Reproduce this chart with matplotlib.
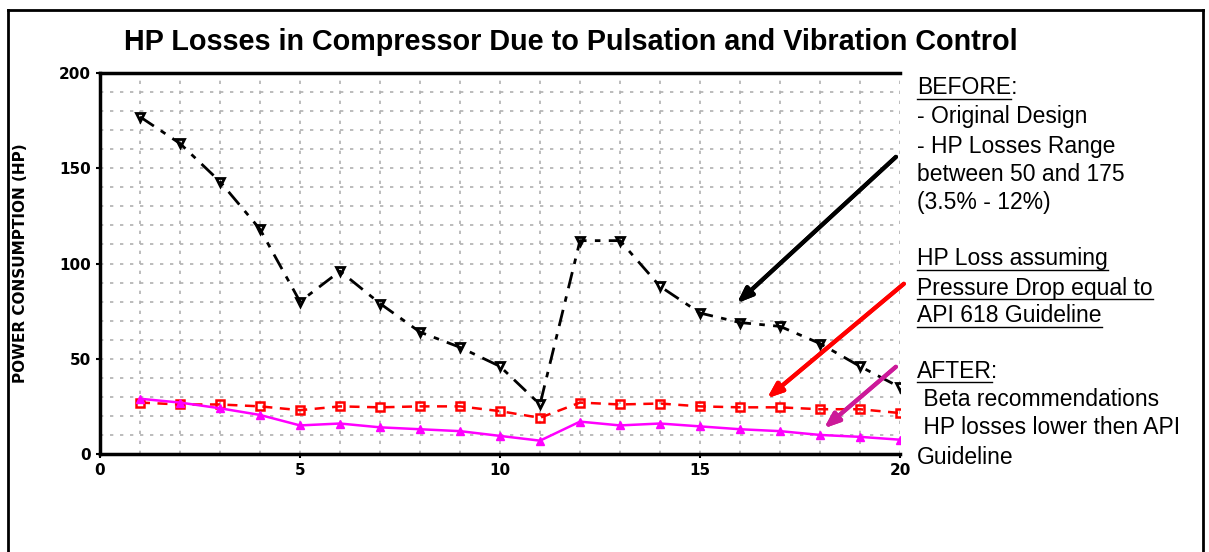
import matplotlib.pyplot as plt
from matplotlib.lines import Line2D
import numpy as np

# data
x = list(range(1, 21))
before = [177, 163, 143, 118, 80, 96, 79, 64, 56, 46, 26, 112, 112, 88, 74, 69, 67, 58, 46, 35]
api_618 = [27, 26, 26, 25, 23, 25, 24.5, 25, 25, 22.5, 19, 27, 26, 26.5, 25, 24.5, 24.5, 23.5, 23.5, 21.5]
after = [29, 27, 24, 20.5, 15, 16, 14, 13, 12, 9.5, 7, 17, 15, 16, 14.5, 13, 12, 10, 9, 7.5]

W, H = 1209, 552
fig = plt.figure(figsize=(W / 100, H / 100), dpi=100)
ax = fig.add_axes([100 / W, 1 - 454 / H, 800 / W, 381 / H])

ax.plot(x, before, color='black', ls=(0, (6, 3, 2, 3)), lw=2, marker='v', ms=6,
        mfc='none', mec='black', mew=2)
ax.plot(x, api_618, color='red', ls=(0, (4, 3)), lw=1.8, marker='s', ms=6,
        mfc='none', mec='red', mew=1.8)
ax.plot(x, after, color='magenta', ls='-', lw=1.8, marker='^', ms=6,
        mfc='magenta', mec='magenta')

ax.set_xlim(0, 20)
ax.set_ylim(0, 200)
ax.set_xticks([0, 5, 10, 15, 20])
ax.set_yticks([0, 50, 100, 150, 200])
ax.set_xticks(np.arange(0, 21, 1), minor=True)
ax.set_yticks(np.arange(0, 201, 10), minor=True)
ax.grid(which='both', color='#b0b0b0', ls=(0, (2, 4)), lw=1.2)
ax.tick_params(which='minor', length=0)
ax.tick_params(which='major', length=3, width=1.5, labelsize=11)
for lab in ax.get_xticklabels() + ax.get_yticklabels():
    lab.set_fontweight('bold')

for s in ['left', 'bottom', 'top']:
    ax.spines[s].set_linewidth(2.5)
ax.spines['right'].set_visible(False)

ax.set_ylabel('POWER CONSUMPTION (HP)', fontsize=11, fontweight='bold', labelpad=22)

fig.text(571 / W, 1 - 42 / H, 'HP Losses in Compressor Due to Pulsation and Vibration Control',
         ha='center', va='center', fontsize=20.7, fontweight='bold', family='Liberation Sans')

# side notes
tx = 917 / W
fs = 16.5
lines = [
    (88, 'BEFORE:', True), (117, '- Original Design', False), (146, '- HP Losses Range', False),
    (174, 'between 50 and 175', False), (203, '(3.5% - 12%)', False),
    (259, 'HP Loss assuming', True), (288, 'Pressure Drop equal to', True),
    (316, 'API 618 Guideline', True),
    (371, 'AFTER:', True), (400, ' Beta recommendations', False),
    (428, ' HP losses lower then API', False), (457, 'Guideline', False),
]
fig.canvas.draw()
for yy, txt, ul in lines:
    t = fig.text(tx, 1 - yy / H, txt, ha='left', va='center', fontsize=fs,
                 family='Liberation Sans')
    if ul:
        label = txt.rstrip(':')
        t2 = fig.text(tx, 1 - yy / H, label, ha='left', va='center', fontsize=fs,
                      family='Liberation Sans', alpha=0)
        bb = t.get_window_extent(renderer=fig.canvas.get_renderer())
        bb2 = t2.get_window_extent(renderer=fig.canvas.get_renderer())
        y0 = (bb.y0 + 1) / H
        fig.add_artist(Line2D([bb2.x0 / W, bb2.x1 / W], [y0, y0], color='black', lw=1))

# arrows (figure pixel coordinates)
arrows = [((898, 155), (735, 305), 'black'),
          ((906, 282), (765, 400), 'red'),
          ((898, 365), (822, 430), '#cc1a99')]
for (x0, y0), (x1, y1), c in arrows:
    fig.add_artist(plt.annotate('', xy=(x1 / W, 1 - y1 / H), xytext=(x0 / W, 1 - y0 / H),
                                xycoords='figure fraction', textcoords='figure fraction',
                                arrowprops=dict(arrowstyle='-|>,head_length=0.9,head_width=0.35',
                                                color=c, lw=3)))

# outer frame
for xs, ys in [([8, 8], [10, 552]), ([8, 1203], [10, 10]), ([1203, 1203], [10, 552])]:
    fig.add_artist(Line2D([v / W for v in xs], [1 - v / H for v in ys], color='black', lw=2))

fig.savefig('out.png', dpi=100)
